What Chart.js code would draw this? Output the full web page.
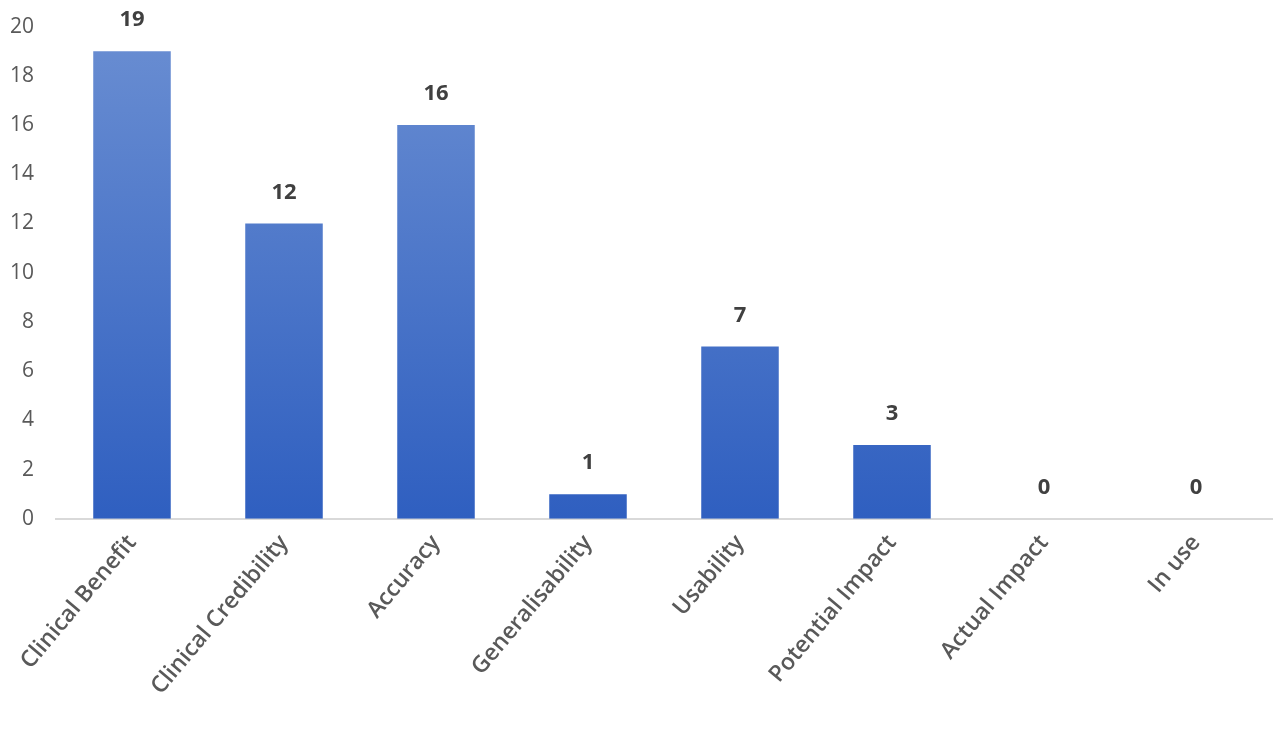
<!DOCTYPE html>
<html>
<head>
<meta charset="utf-8">
<script src="https://cdn.jsdelivr.net/npm/chart.js@4"></script>
<style>
  html, body { margin: 0; padding: 0; background: #fff; }
  #wrap { width: 1280px; height: 733px; }
</style>
</head>
<body>
<div id="wrap"><canvas id="chart"></canvas></div>
<script>
const categories = ['Clinical Benefit', 'Clinical Credibility', 'Accuracy', 'Generalisability', 'Usability', 'Potential Impact', 'Actual Impact', 'In use'];
const counts = [19, 12, 16, 1, 7, 3, 0, 0];
const yTicks = [0, 2, 4, 6, 8, 10, 12, 14, 16, 18, 20];

const valueLabels = {
    id: 'valueLabels',
    afterDatasetsDraw(chart) {
        const ctx = chart.ctx;
        const meta = chart.getDatasetMeta(0);
        ctx.save();
        ctx.font = 'bold 22px "Open Sans", sans-serif';
        ctx.fillStyle = '#404040';
        ctx.textAlign = 'center';
        ctx.textBaseline = 'bottom';
        meta.data.forEach((bar, i) => {
            ctx.fillText(counts[i], bar.x, bar.y - 20);
        });
        ctx.restore();
    },
};

new Chart(document.getElementById('chart').getContext('2d'), {
    type: 'bar',
    data: {
        labels: categories,
        datasets: [
            {
                data: counts,
                backgroundColor: context => {
                    const area = context.chart.chartArea;
                    if (!area) {
                        return '#4472c4';
                    }
                    const g = context.chart.ctx.createLinearGradient(0, area.top, 0, area.bottom);
                    g.addColorStop(0, '#6a8ed2');
                    g.addColorStop(1, '#2f5fc0');
                    return g;
                },
                barPercentage: 0.51,
                categoryPercentage: 1,
            },
        ],
    },
    options: {
        responsive: true,
        maintainAspectRatio: false,
        animation: false,
        layout: { padding: { top: 18, right: 8, left: 0, bottom: 30 } },
        plugins: {
            legend: { display: false },
            tooltip: { enabled: false },
        },
        scales: {
            y: {
                min: 0,
                max: 20,
                afterBuildTicks: axis => {
                    axis.ticks = yTicks.map(v => ({ value: v }));
                },
                ticks: {
                    color: '#595959',
                    font: { size: 21, family: '"Open Sans", sans-serif' },
                    padding: 14,
                },
                afterFit: axis => {
                    axis.width = 56;
                },
                grid: { display: false },
                border: { display: false },
            },
            x: {
                ticks: {
                    color: '#595959',
                    font: { size: 23, weight: '600', family: '"Open Sans", sans-serif' },
                    maxRotation: 50,
                    minRotation: 50,
                    autoSkip: false,
                },
                grid: { display: false },
                border: { color: '#d9d9d9', width: 2 },
            },
        },
    },
    plugins: [valueLabels],
});
</script>
</body>
</html>
